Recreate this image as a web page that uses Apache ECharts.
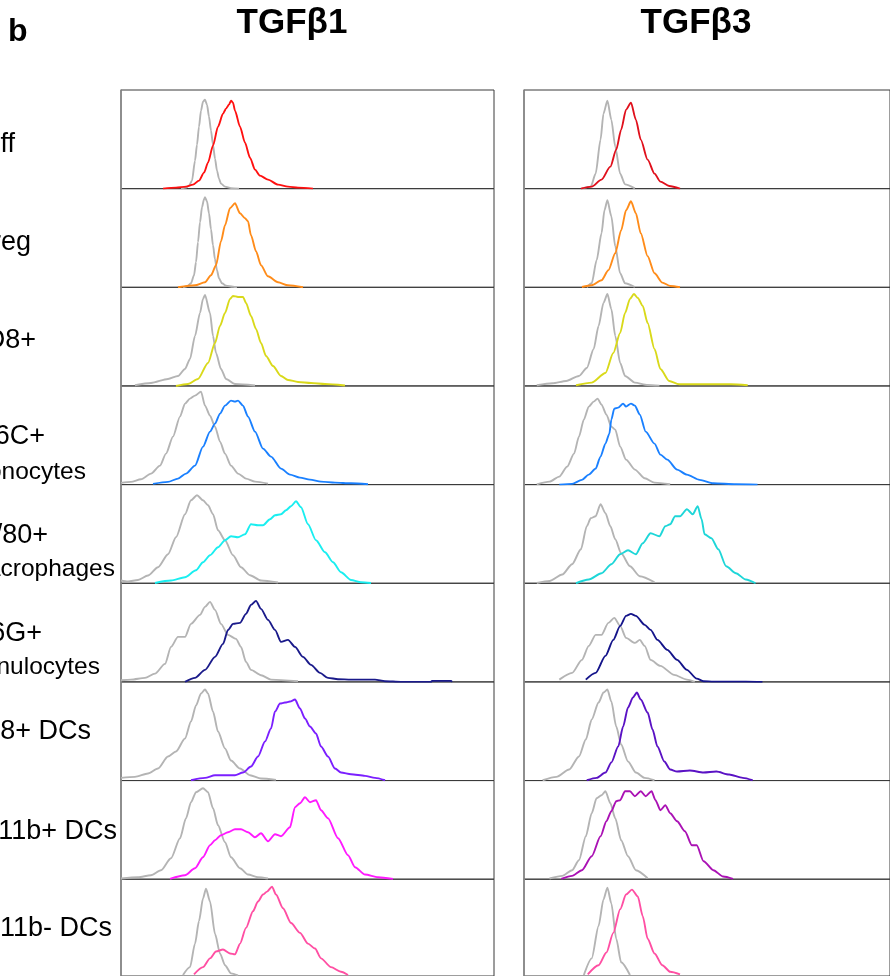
<!DOCTYPE html>
<html><head><meta charset="utf-8">
<script src="https://cdn.jsdelivr.net/npm/echarts/dist/echarts.min.js"></script>
<style>html,body{margin:0;padding:0;background:#fff}#c{width:890px;height:976px}</style>
</head><body><div id="c"></div><script>
// ---- labels ----
const panelTitles = ['TGFβ1', 'TGFβ3'];
const rowLine1 = ['Teff', 'Treg', 'CD8+', 'Ly6C+', 'F4/80+', 'Ly6G+', 'CD8+ DCs', 'CD11b+ DCs', 'CD11b- DCs'];
const rowLine2 = ['', '', '', 'monocytes', 'macrophages', 'granulocytes', '', '', ''];
// x = fluorescence channel (0-373, log scale display), y = normalized count
// ---- TGFβ1 : isotype (grey) and stain ----
const b1_teff_iso = [[60,0],[65,1],[68,3],[71,8],[74,28],[76,44],[78,62],[80,78],[82,87],[84,89],[86,84],[88,72],[90,58],[92,44],[94,30],[96,18],[98,10],[100,5],[104,2],[110,0.5],[118,0]];
const b1_teff = [[42,0],[55,1],[65,2],[72,4],[78,8],[83,16],[87,26],[92,43],[97,62],[102,75],[105,80],[108,84],[110,88],[112,86],[114,78],[119,62],[124,46],[129,31],[134,19],[139,13],[147,9],[157,4],[167,2],[177,1],[192,0]];
const b1_treg_iso = [[62,0],[66,1],[70,4],[73,12],[75,25],[77,45],[79,65],[81,80],[83,88],[84,90],[86,86],[88,74],[90,58],[92,42],[94,28],[96,17],[98,9],[101,4],[105,1.5],[112,0.5],[116,0]];
const b1_treg = [[57,0],[74,2],[84,5],[90,12],[95,22],[100,46],[104,62],[109,79],[114,84],[119,74],[124,69],[127,66],[130,52],[135,36],[140,22],[147,11],[157,5],[167,2],[182,0]];
const b1_cd8_iso = [[14,0.7],[30,3],[47,7],[57,10],[64,17],[69,27],[74,50],[79,73],[82,87],[84,91],[89,73],[92,50],[95,33],[100,17],[105,7],[114,2],[134,0.5]];
const b1_cd8 = [[55,0],[67,2],[77,7],[87,23],[94,43],[99,60],[104,73],[109,87],[112,90],[117,89],[122,89],[125,83],[130,70],[135,57],[140,43],[145,30],[152,20],[160,10],[167,6],[177,4],[190,3],[204,2],[224,0.5]];
const b1_mono_iso = [[0,1.7],[10,2.7],[20,5.3],[30,11],[39,19],[45,31],[52,48],[59,68],[64,81],[69,86],[74,89],[80,93],[84,79],[89,69],[94,58],[99,43],[104,31],[110,19],[117,11],[125,6],[134,3],[147,1]];
const b1_mono = [[32,0.7],[47,2.7],[57,6],[65,11],[74,19],[82,38],[89,53],[94,61],[99,71],[104,79],[110,84],[114,83],[117,84],[122,79],[127,68],[134,53],[142,36],[150,28],[160,16],[169,10],[179,7],[189,5],[200,3],[214,2],[230,1.3],[247,0.3]];
const b1_mac_iso = [[0,2.7],[7,1.7],[17,3.3],[27,7.7],[37,16],[47,29],[55,46],[64,69],[70,83],[76,88],[82,83],[87,78],[92,69],[97,53],[104,43],[112,28],[120,16],[129,8],[140,2.7],[157,0.7]];
const b1_mac = [[34,0.3],[50,2.7],[64,6],[75,13],[82,21],[89,28],[97,36],[104,43],[110,47],[117,46],[124,49],[130,59],[137,58],[142,58],[149,64],[154,68],[160,69],[165,73],[170,77],[175,82],[180,76],[187,59],[195,43],[204,31],[212,21],[220,11],[230,3.3],[240,1],[250,0.3]];
const b1_gran_iso = [[0,1.7],[10,2.3],[24,4],[34,8.3],[44,18],[50,35],[57,45],[64,45],[70,58],[79,67],[84,75],[89,80],[94,72],[100,58],[107,47],[115,43],[120,35],[125,20],[130,12],[140,6.7],[150,2.3],[177,0.7]];
const b1_gran = [[64,0],[74,4],[84,12],[94,25],[102,38],[107,52],[112,58],[119,59],[125,68],[130,77],[135,81],[140,73],[147,62],[154,52],[160,40],[167,42],[174,35],[182,25],[190,17],[199,9],[207,4],[217,2.7],[230,2.3],[254,2.3],[264,0.7],[280,0],[310,0],[311,1],[330,1],[331,0]];
const b1_cd8dc_iso = [[0,2.7],[14,3.7],[27,7],[37,12],[47,24],[55,29],[64,42],[70,59],[75,75],[80,87],[84,91],[87,87],[92,69],[97,49],[104,32],[110,20],[119,12],[129,5.3],[140,2],[155,0.7]];
const b1_cd8dc = [[70,0.3],[84,2.7],[94,5.3],[104,5.3],[114,5.3],[122,8],[130,14],[137,24],[144,39],[150,52],[154,69],[159,77],[164,78],[169,79],[174,81],[179,72],[184,62],[189,54],[195,47],[200,34],[207,24],[214,12],[220,8],[230,6.3],[244,4.7],[254,2.7],[264,0.3]];
const b1_cd11bp_iso = [[0,0.7],[17,2],[30,4],[40,9],[50,21],[59,41],[65,61],[70,77],[75,87],[82,91],[87,87],[92,71],[97,54],[104,37],[110,22],[119,11],[127,4.7],[137,2],[147,0.7]];
const b1_cd11bp = [[49,0.3],[64,4],[74,11],[82,22],[89,34],[94,39],[100,44],[107,47],[114,50],[120,50],[127,47],[134,42],[140,46],[147,38],[154,45],[160,43],[169,52],[174,72],[179,76],[184,82],[189,77],[195,79],[200,69],[207,61],[217,41],[227,24],[234,12],[244,4.7],[257,2],[272,0.3]];
const b1_cd11bn_iso = [[62,1],[69,9],[74,33],[78,56],[82,79],[85,89],[89,76],[94,43],[99,23],[104,11],[110,2.7],[117,0.7]];
const b1_cd11bn = [[73,1.7],[82,9],[89,18],[95,25],[102,27],[109,23],[114,22],[119,33],[125,49],[132,66],[137,76],[142,83],[146,86],[151,91],[155,83],[162,69],[170,54],[179,44],[187,33],[194,28],[200,18],[210,9],[220,4.3],[227,1]];
// ---- TGFβ3 ----
const b3_teff_iso = [[59,0.3],[68,2],[73,15],[78,49],[81,75],[85,88],[89,69],[93,42],[98,15],[103,4.3],[113,0.3]];
const b3_teff = [[58,0],[69,2],[79,9],[88,22],[94,39],[99,59],[104,79],[109,86],[114,69],[119,49],[126,29],[133,15],[139,7],[148,2.7],[159,0]];
const b3_treg_iso = [[64,0],[69,4],[74,27],[79,54],[82,77],[85,87],[89,71],[93,41],[98,14],[103,4],[113,0.3]];
const b3_treg = [[59,0.3],[69,2],[79,7],[86,17],[93,34],[99,57],[104,77],[109,86],[114,74],[119,54],[126,31],[133,14],[141,4.7],[149,1.3],[159,0]];
const b3_cd8_iso = [[13,0.7],[29,2.7],[43,5],[56,10],[64,18],[71,37],[76,60],[81,83],[85,92],[89,77],[93,50],[98,23],[103,10],[113,3.3],[126,1],[138,0.3]];
const b3_cd8 = [[53,0.7],[69,3.3],[83,13],[91,33],[98,53],[103,73],[108,87],[112,92],[116,88],[121,80],[126,63],[133,37],[139,17],[148,5],[158,1.7],[179,1.7],[211,1.7],[228,0.7]];
const b3_mono_iso = [[13,0.3],[26,3],[36,8],[44,18],[51,31],[56,48],[61,65],[66,78],[71,83],[75,86],[79,80],[84,70],[89,58],[93,55],[98,38],[104,25],[113,15],[123,6.3],[133,2],[149,0.3]];
const b3_mono = [[36,0],[49,0.7],[59,4.7],[66,10],[73,16],[78,28],[83,41],[87,51],[89,65],[92,76],[96,77],[101,81],[104,78],[109,81],[113,79],[118,70],[124,53],[133,41],[139,30],[146,25],[156,15],[166,10],[179,4.7],[193,1.3],[216,0.3],[238,0]];
const b3_mac_iso = [[13,0.3],[26,2.3],[39,8.7],[49,19],[58,34],[64,57],[68,65],[73,67],[78,79],[83,70],[88,57],[93,44],[99,30],[108,17],[118,7],[133,1]];
const b3_mac = [[53,0],[66,3.7],[79,10],[89,19],[98,29],[106,33],[114,29],[121,40],[129,50],[138,47],[144,57],[149,59],[154,67],[159,67],[166,74],[172,69],[177,77],[181,64],[184,49],[191,45],[198,34],[206,17],[216,10],[226,3.7],[236,0]];
const b3_gran_iso = [[36,2.3],[49,9],[59,22],[66,36],[73,47],[79,47],[86,59],[92,64],[98,56],[104,44],[113,39],[118,42],[123,36],[129,22],[139,16],[153,7],[166,2.3],[174,0]];
const b3_gran = [[63,2.3],[73,9],[83,26],[91,42],[98,56],[104,66],[109,68],[114,66],[123,57],[129,52],[136,42],[146,32],[156,22],[166,12],[176,3.3],[183,0.7],[193,0.3],[226,0.3],[243,0]];
const b3_cd8dc_iso = [[19,0.3],[33,3.7],[46,11],[56,24],[63,41],[69,61],[76,78],[81,88],[85,91],[89,79],[94,54],[99,36],[106,19],[114,8],[123,2.7],[133,0.3]];
const b3_cd8dc = [[64,0.3],[74,2.7],[83,8],[89,18],[96,34],[101,54],[106,73],[111,83],[115,88],[119,81],[126,68],[131,51],[136,34],[143,19],[149,11],[156,9],[169,10],[183,8],[196,9],[209,6],[223,2.7],[233,0.3]];
const b3_cd11bp_iso = [[26,0.7],[39,3.3],[49,9],[56,19],[63,43],[69,66],[74,81],[79,84],[83,88],[88,76],[93,61],[99,39],[106,23],[114,9],[126,1]];
const b3_cd11bp = [[38,0.3],[49,3.3],[59,9],[69,23],[78,43],[84,58],[89,68],[94,78],[98,79],[103,88],[108,88],[113,83],[119,88],[124,83],[130,88],[134,79],[139,69],[144,74],[149,66],[156,58],[164,48],[171,34],[176,34],[183,18],[193,9],[203,2.7],[213,0.3]];
const b3_cd11bn_iso = [[61,1],[69,18],[76,51],[81,78],[85,90],[89,74],[94,38],[99,14],[108,1]];
const b3_cd11bn = [[65,1.7],[76,11],[84,24],[91,44],[98,68],[104,83],[110,88],[116,81],[121,61],[126,38],[133,23],[141,11],[149,4.3],[159,1.7]];

const isoColor = '#b4b4b4';
const colorsB1 = ['#ff1010','#ff8c1a','#d9d91a','#1a80ff','#1aeef0','#1a1a8a','#7b1fff','#ff1aff','#ff4fa3'];
const colorsB3 = ['#e0101c','#ff8c1a','#d9d91a','#1a80ff','#1ed6d8','#14148a','#5a12c4','#aa12b4','#ff4fa3'];

const b1Panels = [[b1_teff_iso,b1_teff],[b1_treg_iso,b1_treg],[b1_cd8_iso,b1_cd8],[b1_mono_iso,b1_mono],[b1_mac_iso,b1_mac],[b1_gran_iso,b1_gran],[b1_cd8dc_iso,b1_cd8dc],[b1_cd11bp_iso,b1_cd11bp],[b1_cd11bn_iso,b1_cd11bn]];
const b3Panels = [[b3_teff_iso,b3_teff],[b3_treg_iso,b3_treg],[b3_cd8_iso,b3_cd8],[b3_mono_iso,b3_mono],[b3_mac_iso,b3_mac],[b3_gran_iso,b3_gran],[b3_cd8dc_iso,b3_cd8dc],[b3_cd11bp_iso,b3_cd11bp],[b3_cd11bn_iso,b3_cd11bn]];

// ---- layout ----
const FONT = '"Liberation Sans", Arial, sans-serif';
const TOP = 90, ROWH = 98.65, PW = 373, COLX = [121, 524];
const XMAX = 373, YMAX = 98.65;

const grids = [], xAxes = [], yAxes = [], series = [];
[b1Panels, b3Panels].forEach((panels, c) => {
  const cols = c === 0 ? colorsB1 : colorsB3;
  panels.forEach((pair, r) => {
    const gi = grids.length;
    grids.push({left: COLX[c], top: TOP + r * ROWH, width: PW, height: ROWH,
      show: true, borderColor: '#3a3a3a', borderWidth: 1, backgroundColor: 'transparent'});
    xAxes.push({gridIndex: gi, type: 'value', min: 0, max: XMAX, show: false});
    yAxes.push({gridIndex: gi, type: 'value', min: 0, max: YMAX,
      axisLine: {show: true, lineStyle: {color: '#8a8a8a', width: 1.5}},
      axisTick: {show: false}, axisLabel: {show: false}, splitLine: {show: false}});
    [isoColor, cols[r]].forEach((col, k) => {
      series.push({type: 'line', xAxisIndex: gi, yAxisIndex: gi, data: pair[k],
        showSymbol: false, symbol: 'none', smooth: 0.25, smoothMonotone: 'x',
        lineStyle: {color: col, width: 1.9}, z: 2 + k, animation: false, silent: true});
    });
  });
});

const rowMid1 = [145, 243, 341, 437, 536, 634, 732, 832, 929];
const rowMid2 = [0, 0, 0, 472, 569, 667, 0, 0, 0];
const rowEnd1 = [15, 31, 36, 45, 48, 42, 91, 117, 112];
const rowEnd2 = [0, 0, 0, 86, 115, 100, 0, 0, 0];

const graphics = [
  {type: 'text', left: 8, top: 16, style: {text: 'b', font: 'bold 32px ' + FONT, fill: '#000'}},
  {type: 'text', style: {text: panelTitles[0], x: 292, y: 23, textAlign: 'center', textVerticalAlign: 'middle', font: 'bold 35px ' + FONT, fill: '#000'}},
  {type: 'text', style: {text: panelTitles[1], x: 696, y: 23, textAlign: 'center', textVerticalAlign: 'middle', font: 'bold 35px ' + FONT, fill: '#000'}}
];
rowLine1.forEach((t, i) => {
  graphics.push({type: 'text', style: {text: t, x: rowEnd1[i], y: rowMid1[i], textAlign: 'right', textVerticalAlign: 'middle', font: '27px ' + FONT, fill: '#000'}});
  if (rowLine2[i]) graphics.push({type: 'text', style: {text: rowLine2[i], x: rowEnd2[i], y: rowMid2[i], textAlign: 'right', textVerticalAlign: 'middle', font: '24.5px ' + FONT, fill: '#000'}});
});

const chart = echarts.init(document.getElementById('c'), null, {renderer: 'canvas'});
chart.setOption({animation: false, backgroundColor: '#fff', grid: grids, xAxis: xAxes, yAxis: yAxes, series: series, graphic: graphics});
</script></body></html>
